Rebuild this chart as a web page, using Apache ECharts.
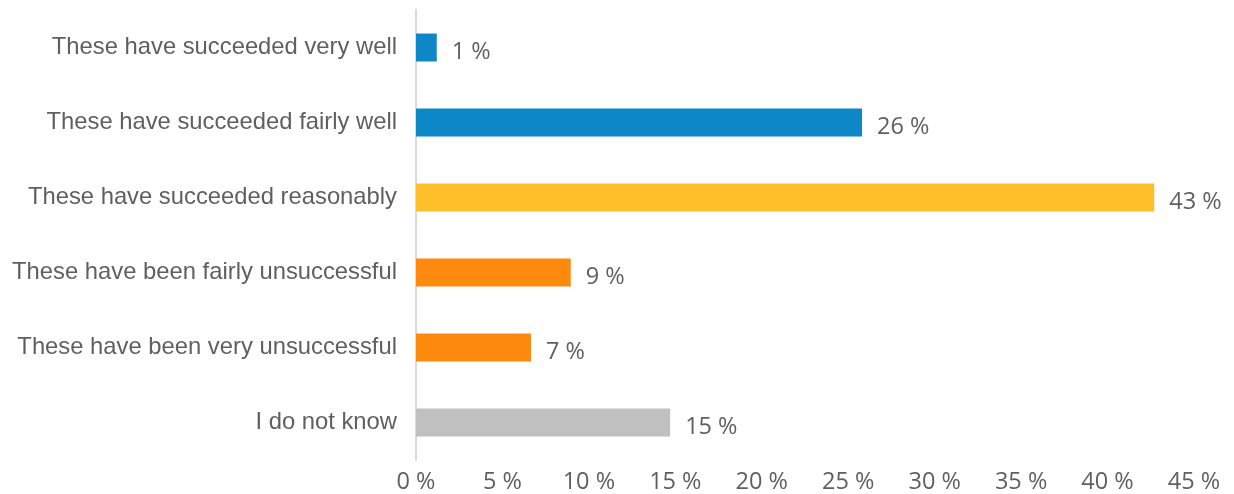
<!DOCTYPE html>
<html>
<head>
<meta charset="utf-8">
<script src="https://cdn.jsdelivr.net/npm/echarts@6/dist/echarts.min.js"></script>
<style>
    html, body { margin: 0; padding: 0; background: #fff; }
    #chart { width: 1234px; height: 494px; }
</style>
</head>
<body>
<div id="chart"></div>
<script>
var categories = [
    'These have succeeded very well',
    'These have succeeded fairly well',
    'These have succeeded reasonably',
    'These have been fairly unsuccessful',
    'These have been very unsuccessful',
    'I do not know'
];
var values = [1.2, 25.8, 42.7, 8.95, 6.65, 14.7];
var valueLabels = ['1 %', '26 %', '43 %', '9 %', '7 %', '15 %'];
var barColors = ['#0e87c6', '#0e87c6', '#fdc02b', '#fd890e', '#fd890e', '#c0c0c0'];

var chartDom = document.getElementById('chart');
var myChart = echarts.init(chartDom);
var option;

option = {
    animation: false,
    grid: {
        left: 416,
        right: 40,
        top: 10,
        bottom: 32,
        containLabel: false
    },
    xAxis: {
        type: 'value',
        min: 0,
        max: 45,
        interval: 5,
        axisLine: { show: false },
        axisTick: { show: false },
        splitLine: { show: false },
        axisLabel: {
            formatter: '{value} %',
            color: '#5f5f5f',
            fontFamily: 'Open Sans',
            fontSize: 23.5,
            margin: 10
        }
    },
    yAxis: {
        type: 'category',
        inverse: true,
        data: categories,
        axisLine: { show: true, lineStyle: { color: '#d9d9d9', width: 2 } },
        axisTick: { show: false },
        axisLabel: {
            color: '#5f5f5f',
            fontFamily: 'Liberation Sans',
            fontSize: 23.8,
            margin: 19,
            verticalAlign: 'middle'
        }
    },
    series: [{
        type: 'bar',
        barWidth: 28,
        data: values.map(function (v, i) {
            return { value: v, itemStyle: { color: barColors[i] } };
        }),
        label: {
            show: true,
            position: 'right',
            distance: 15,
            offset: [0, 5],
            color: '#5f5f5f',
            fontFamily: 'Open Sans',
            fontSize: 23.5,
            formatter: function (p) { return valueLabels[p.dataIndex]; }
        }
    }]
};

option && myChart.setOption(option);
</script>
</body>
</html>
